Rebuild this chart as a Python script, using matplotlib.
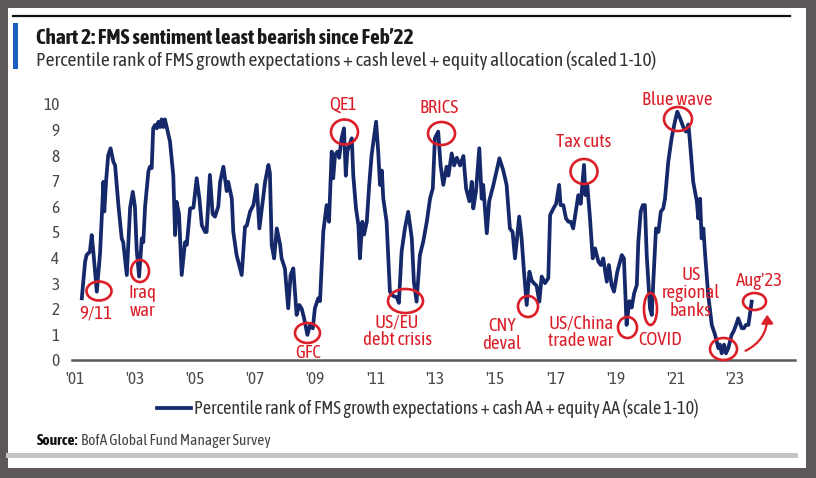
import matplotlib
matplotlib.use('Agg')
import matplotlib.pyplot as plt
from matplotlib.patches import Ellipse, Rectangle, FancyArrowPatch
from matplotlib.lines import Line2D

# ---------------- data ----------------
dates = [
    2001.21, 2001.32, 2001.37, 2001.48, 2001.54, 2001.59, 2001.71, 2001.82, 2001.93, 2001.96,
    2002.02, 2002.09, 2002.17, 2002.26, 2002.32, 2002.43, 2002.54, 2002.59, 2002.71, 2002.82,
    2002.91, 2002.98, 2003.04, 2003.12, 2003.21, 2003.26, 2003.32, 2003.43, 2003.48, 2003.54,
    2003.59, 2003.65, 2003.71, 2003.76, 2003.82, 2003.87, 2003.93, 2003.98, 2004.04, 2004.15,
    2004.26, 2004.32, 2004.37, 2004.45, 2004.54, 2004.65, 2004.71, 2004.82, 2004.93, 2005.04,
    2005.13, 2005.21, 2005.32, 2005.37, 2005.48, 2005.57, 2005.65, 2005.76, 2005.82, 2005.93,
    2006.04, 2006.09, 2006.21, 2006.26, 2006.37, 2006.54, 2006.65, 2006.71, 2006.82, 2006.93,
    2007.04, 2007.13, 2007.21, 2007.32, 2007.43, 2007.48, 2007.54, 2007.62, 2007.71, 2007.82,
    2007.87, 2007.98, 2008.09, 2008.17, 2008.26, 2008.37, 2008.46, 2008.54, 2008.62, 2008.73,
    2008.82, 2008.91, 2008.98, 2009.09, 2009.15, 2009.26, 2009.37, 2009.45, 2009.54, 2009.59,
    2009.65, 2009.73, 2009.79, 2009.87, 2009.95, 2010.01, 2010.06, 2010.13, 2010.21, 2010.26,
    2010.35, 2010.43, 2010.48, 2010.56, 2010.62, 2010.71, 2010.79, 2010.87, 2011.02, 2011.09,
    2011.15, 2011.21, 2011.26, 2011.32, 2011.37, 2011.48, 2011.59, 2011.71, 2011.78, 2011.87,
    2011.98, 2012.09, 2012.21, 2012.28, 2012.37, 2012.48, 2012.59, 2012.71, 2012.82, 2012.91,
    2012.98, 2013.09, 2013.17, 2013.26, 2013.37, 2013.43, 2013.54, 2013.62, 2013.71, 2013.82,
    2013.93, 2014.02, 2014.13, 2014.21, 2014.26, 2014.35, 2014.46, 2014.54, 2014.59, 2014.71,
    2014.79, 2014.93, 2015.04, 2015.13, 2015.26, 2015.37, 2015.48, 2015.57, 2015.65, 2015.79,
    2015.87, 2015.95, 2016.04, 2016.13, 2016.21, 2016.28, 2016.37, 2016.46, 2016.54, 2016.65,
    2016.76, 2016.82, 2016.93, 2017.02, 2017.12, 2017.17, 2017.26, 2017.35, 2017.43, 2017.51,
    2017.59, 2017.76, 2017.84, 2017.95, 2018.00, 2018.06, 2018.15, 2018.24, 2018.32, 2018.43,
    2018.51, 2018.59, 2018.71, 2018.78, 2018.87, 2018.95, 2019.06, 2019.21, 2019.28, 2019.37,
    2019.46, 2019.54, 2019.62, 2019.71, 2019.76, 2019.84, 2019.91, 2019.98, 2020.04, 2020.15,
    2020.21, 2020.26, 2020.35, 2020.43, 2020.51, 2020.59, 2020.65, 2020.76, 2020.87, 2020.98,
    2021.06, 2021.15, 2021.26, 2021.35, 2021.43, 2021.48, 2021.59, 2021.71, 2021.76, 2021.82,
    2021.87, 2021.93, 2021.98, 2022.09, 2022.21, 2022.32, 2022.43, 2022.48, 2022.54, 2022.62,
    2022.68, 2022.76, 2022.87, 2022.93, 2023.02, 2023.09, 2023.21, 2023.28, 2023.35, 2023.43,
    2023.54,
]
sentiment = [
    2.41, 3.84, 4.10, 4.23, 4.88, 4.30, 2.67, 4.20, 6.96, 5.80,
    7.00, 8.00, 8.27, 7.75, 7.60, 6.05, 4.75, 4.60, 3.32, 5.95,
    6.57, 6.00, 4.30, 3.26, 4.75, 4.60, 6.00, 7.36, 7.55, 7.50,
    9.05, 9.18, 9.05, 9.30, 9.10, 9.40, 9.10, 9.40, 9.10, 8.53,
    7.20, 4.88, 6.18, 5.70, 3.32, 4.60, 4.50, 5.92, 5.95, 7.10,
    6.30, 5.27, 5.00, 5.00, 7.23, 5.70, 5.60, 6.00, 6.96, 7.55,
    6.60, 6.96, 6.30, 5.00, 4.10, 3.32, 5.20, 5.25, 5.80, 6.05,
    6.84, 5.14, 5.90, 6.96, 7.62, 7.30, 4.49, 3.97, 5.14, 4.50,
    3.97, 3.58, 2.02, 3.32, 3.58, 1.76, 2.15, 2.00, 1.63, 0.98,
    1.37, 1.24, 2.02, 2.41, 2.30, 5.01, 6.05, 5.40, 8.14, 7.10,
    8.00, 8.14, 7.90, 8.66, 9.05, 7.20, 8.14, 8.40, 8.66, 7.20,
    5.92, 5.27, 3.97, 5.40, 4.90, 5.40, 6.84, 8.00, 9.31, 8.14,
    6.84, 7.40, 6.30, 5.80, 5.40, 2.67, 2.50, 2.45, 2.23, 4.23,
    5.14, 5.79, 4.75, 3.05, 2.28, 4.10, 4.62, 5.40, 6.32, 6.70,
    8.66, 8.92, 7.60, 6.84, 7.55, 7.20, 8.07, 7.60, 7.90, 7.60,
    7.97, 6.70, 6.20, 6.96, 5.92, 6.60, 8.27, 6.30, 6.84, 4.95,
    6.20, 6.84, 7.40, 7.88, 7.40, 6.84, 5.14, 5.00, 3.97, 5.60,
    4.75, 3.45, 2.15, 3.45, 3.10, 3.00, 2.90, 2.28, 3.26, 3.00,
    3.20, 5.66, 5.92, 6.10, 6.84, 6.05, 6.05, 5.53, 5.40, 5.40,
    5.14, 6.44, 6.10, 7.62, 6.44, 6.84, 5.53, 3.97, 4.36, 3.84,
    3.71, 3.97, 3.06, 3.71, 2.93, 2.67, 3.45, 4.10, 3.97, 1.37,
    2.30, 2.05, 2.60, 2.93, 4.60, 5.79, 6.05, 6.05, 4.10, 2.02,
    1.76, 3.06, 5.14, 5.00, 5.79, 5.92, 6.30, 7.75, 8.66, 9.31,
    9.70, 9.45, 9.10, 8.92, 9.20, 8.55, 6.96, 6.20, 5.53, 6.30,
    4.75, 5.14, 4.23, 2.54, 1.37, 0.98, 0.46, 0.60, 0.26, 0.60,
    0.26, 0.46, 0.98, 1.10, 1.37, 1.63, 1.24, 1.24, 1.37, 1.37,
    2.28,
]
tick_years = [2001, 2003, 2005, 2007, 2009, 2011, 2013, 2015, 2017, 2019, 2021, 2023]
tick_labels = ["'01", "'03", "'05", "'07", "'09", "'11", "'13", "'15", "'17", "'19", "'21", "'23"]
y_ticks = list(range(0, 11))

title = "Chart 2: FMS sentiment least bearish since Feb\u201922"
subtitle = "Percentile rank of FMS growth expectations + cash level + equity allocation (scaled 1-10)"
legend_label = "Percentile rank of FMS growth expectations + cash AA + equity AA (scale 1-10)"
source_bold = "Source:"
source_text = "BofA Global Fund Manager Survey"

annotations = ["9/11", "Iraq\nwar", "GFC", "QE1", "US/EU\ndebt crisis", "BRICS", "CNY\ndeval",
               "Tax cuts", "US/China\ntrade war", "COVID", "Blue wave", "US\nregional\nbanks", "Aug'23"]

# ---------------- layout ----------------
W, H, DPI = 816, 478, 100
FONT = ['Asap Condensed', 'Archivo Narrow', 'Barlow Semi Condensed', 'DejaVu Sans']
plt.rcParams['font.family'] = FONT

NAVY = '#14286a'
RED = '#dc1e28'

fig = plt.figure(figsize=(W / DPI, H / DPI), dpi=DPI, facecolor='#5e5757')


def fx(x):
    return x / W


def fy(y):
    return 1 - y / H


# white panel, header line, blue bar, bottom bar
fig.patches.append(Rectangle((fx(8), fy(468)), (806 - 8) / W, (468 - 8) / H, transform=fig.transFigure,
                             facecolor='white', edgecolor='none', zorder=-10))
fig.lines.append(Line2D([fx(13), fx(790)], [fy(16), fy(16)], transform=fig.transFigure, color='#111111',
                        lw=1.6, zorder=-5))
fig.patches.append(Rectangle((fx(13), fy(69)), 5 / W, 46 / H, transform=fig.transFigure,
                             facecolor='#1c5fbf', edgecolor='none', zorder=-5))
fig.patches.append(Rectangle((fx(6), fy(458)), (798 - 6) / W, 5 / H, transform=fig.transFigure,
                             facecolor='#c4c4c4', edgecolor='none', zorder=-5))

ax_l, ax_r, ax_t, ax_b = 72, 795, 104, 360
ax = fig.add_axes([fx(ax_l), fy(ax_b), (ax_r - ax_l) / W, (ax_b - ax_t) / H])
ax.set_zorder(2)
ax.set_facecolor('none')
x0 = 2001 + (ax_l - 75.5) / 30
x1 = 2001 + (ax_r - 75.5) / 30
ax.set_xlim(x0, x1)
ax.set_ylim(0, 10)

ax.plot(dates, sentiment, color=NAVY, lw=2.7, solid_joinstyle='round', clip_on=False, zorder=3)

for s in ['top', 'right', 'left']:
    ax.spines[s].set_visible(False)
ax.spines['bottom'].set_color('#5a5a5a')
ax.spines['bottom'].set_linewidth(1.8)
ax.set_xticks(tick_years)
ax.set_xticklabels(tick_labels)
ax.set_yticks(y_ticks)
ax.tick_params(axis='both', length=0, labelsize=12.5, colors='#4a4a4a')
ax.tick_params(axis='y', pad=9)
ax.tick_params(axis='x', pad=8)


def P(x, y):
    return 2001 + (x - 75.5) / 30, (360 - y) / 25.6


# annotation placements in pixel terms: text centre, ellipse centre, ellipse size
text_pos = [(96, 314), (142, 302), (308, 353), (343, 105), (397, 331), (439, 108), (502, 335),
            (584, 142), (581, 332), (660, 340), (677, 100), (691, 293), (759, 281)]
ell_pos = [(99, 291), (140, 271), (307.5, 333), (344.5, 132), (405.5, 301), (441.5, 133.5), (528, 306.5),
           (584, 171.5), (627.5, 327.5), (650.5, 309), (678, 119), (723.5, 349), (754.5, 301.5)]
ell_size = [(25, 19), (18, 22), (25, 20), (27, 25), (35, 24), (27, 23), (20, 21),
            (27, 25), (19, 21), (13, 32), (28, 24), (27, 22), (23, 17)]

for lab, tp, ep, es in zip(annotations, text_pos, ell_pos, ell_size):
    tx, ty = P(*tp)
    ax.text(tx, ty, lab, color=RED, fontsize=13.5, ha='center', va='center', linespacing=0.98,
            zorder=5, clip_on=False)
    ex, ey = P(*ep)
    ax.add_patch(Ellipse((ex, ey), es[0] / 30, es[1] / 25.6, facecolor='none', edgecolor=RED,
                         lw=1.9, zorder=6, clip_on=False))

arrow = FancyArrowPatch(P(743, 352), P(767, 312), connectionstyle='arc3,rad=0.35',
                        arrowstyle='-|>,head_length=5,head_width=3.5', color=RED, lw=1.6,
                        zorder=6, clip_on=False)
ax.add_patch(arrow)

# titles, legend, source
t_title = fig.text(fx(36), fy(38), title, fontsize=14, fontweight='bold', color='#1a1a1a', va='center')
t_sub = fig.text(fx(36), fy(60), subtitle, fontsize=13, color='#333333', va='center')
fig.lines.append(Line2D([fx(157), fx(191)], [fy(408), fy(408)], transform=fig.transFigure, color=NAVY, lw=2.7))
t_leg = fig.text(fx(194), fy(408), legend_label, fontsize=12, color='#333333', va='center')
t_src = fig.text(fx(37), fy(441), source_bold, fontsize=10, fontweight='bold', color='#111111', va='center')
t_src2 = fig.text(fx(37), fy(441), source_text, fontsize=10, color='#444444', va='center')

fig.canvas.draw()
r = fig.canvas.get_renderer()
for t, target in [(t_title, 378), (t_sub, 619), (t_leg, 506)]:
    w = t.get_window_extent(r).width
    t.set_fontsize(t.get_fontsize() * target / w)
# source line: fit the two parts to the reference width
wb = t_src.get_window_extent(r).width
wt = t_src2.get_window_extent(r).width
k = (233 - 3) / (wb + wt)
t_src.set_fontsize(10 * k)
t_src2.set_fontsize(10 * k)
fig.canvas.draw()
wb = t_src.get_window_extent(r).width
t_src2.set_position((fx(37 + wb + 3), fy(441)))

fig.savefig('out.png', dpi=DPI, facecolor=fig.get_facecolor())
